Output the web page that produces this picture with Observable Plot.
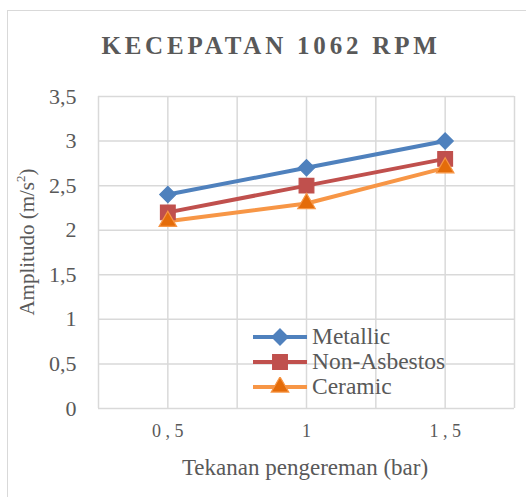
<!DOCTYPE html>
<html>
<head>
<meta charset="utf-8">
<script src="https://cdn.jsdelivr.net/npm/d3@7"></script>
<script src="https://cdn.jsdelivr.net/npm/@observablehq/plot@0.6"></script>
<style>
  html, body { margin: 0; padding: 0; background: #fff; }
  #wrap { position: relative; width: 526px; height: 497px; overflow: hidden; color: #595959; }
  #border { position: absolute; left: 7px; top: 10px; width: 530px; height: 500px; border: 1.5px solid #d9d9d9; box-sizing: border-box; }
  #chart { position: absolute; left: 0; top: 0; }
  .abs { position: absolute; white-space: nowrap; }
  #title { left: 0; width: 542px; top: 30px; text-align: center; font-weight: bold; font-size: 25px; letter-spacing: 3.8px; line-height: 32px; }
  #ytitle { left: 27px; top: 242px; transform: translate(-50%, -50%) rotate(-90deg); font-size: 21px; line-height: 22px; }
  #xtitle { left: 305px; top: 468px; transform: translate(-50%, -50%); font-size: 23px; line-height: 26px; }
  #legend { left: 253px; top: 324px; }
  .lrow { display: flex; align-items: center; height: 25px; font-size: 23.5px; }
  .lrow svg { margin-right: 5px; }
</style>
</head>
<body>
<div id="wrap" style="font-family:'Liberation Serif'">
  <div id="border"></div>
  <div id="chart"></div>
  <div id="title" class="abs" style="font-family:'Liberation Serif'">KECEPATAN 1062 RPM</div>
  <div id="ytitle" class="abs" style="font-family:'Liberation Serif'">Amplitudo (m/s<sup style="font-size:13px;vertical-align:9px;line-height:0">2</sup>)</div>
  <div id="xtitle" class="abs" style="font-family:'Liberation Serif'">Tekanan pengereman (bar)</div>
  <div id="legend" class="abs" style="font-family:'Liberation Serif'"></div>
</div>
<script>
// Data
const pressures = [0.5, 1, 1.5];
const pressureLabels = ["0 , 5", "1", "1 , 5"];
const seriesNames = ["Metallic", "Non-Asbestos", "Ceramic"];
const metallic = [2.4, 2.7, 3.0];
const nonAsbestos = [2.2, 2.5, 2.8];
const ceramic = [2.1, 2.3, 2.7];
const yTicks = [0, 0.5, 1, 1.5, 2, 2.5, 3, 3.5];

// Styles
const FONT = "Liberation Serif";
const lineColors = ["#4F81BD", "#C0504D", "#F79646"];
const markFill = ["#4F81BD", "#C0504D", "#E46C0A"];
const markStroke = ["#4F81BD", "#C0504D", "#F79646"];
const symbols = ["diamond2", "square", "triangle"];
const symR = [7.3, 8.3, 6.5];

const allValues = [metallic, nonAsbestos, ceramic];
const rows = [];
seriesNames.forEach((s, i) => pressures.forEach((p, j) => rows.push({series: s, x: p, y: allValues[i][j], idx: i})));

const gridX = d3.range(0.25, 1.76, 0.25);
const fmtY = d => String(d).replace(".", ",");

const marks = [
  Plot.ruleX(gridX, {stroke: "#d9d9d9", strokeWidth: 1.5}),
  Plot.ruleY(yTicks, {stroke: "#d9d9d9", strokeWidth: 1.5}),
  Plot.axisY({ticks: yTicks, tickSize: 0, tickPadding: 22, tickFormat: fmtY, fontSize: 22, fill: "#595959", label: null}),
  Plot.axisX({ticks: pressures, tickSize: 0, tickPadding: 16, tickFormat: (d, i) => pressureLabels[i], fontSize: 18, fill: "#595959", label: null}),
];
seriesNames.forEach((s, i) => {
  const d = rows.filter(r => r.series === s);
  marks.push(Plot.line(d, {x: "x", y: "y", stroke: lineColors[i], strokeWidth: 4}));
});
seriesNames.forEach((s, i) => {
  const d = rows.filter(r => r.series === s);
  marks.push(Plot.dot(d, {x: "x", y: "y", symbol: () => symbols[i], r: symR[i], fill: markFill[i], stroke: markStroke[i], strokeWidth: 1.2}));
});

const chart = Plot.plot({
  width: 526, height: 497,
  marginLeft: 98, marginRight: 12, marginTop: 96, marginBottom: 89,
  style: {fontFamily: FONT, background: "transparent", overflow: "visible"},
  x: {type: "linear", domain: [0.25, 1.75]},
  y: {domain: [0, 3.5]},
  symbol: {type: "identity"},
  marks
});
chart.querySelectorAll("text").forEach(t => t.setAttribute("font-family", FONT));
chart.style.fontFamily = FONT;
document.getElementById("chart").appendChild(chart);

// Legend
const leg = document.getElementById("legend");
seriesNames.forEach((s, i) => {
  const row = document.createElement("div");
  row.className = "lrow";
  const sym = d3.symbol().type(i === 0 ? d3.symbolDiamond2 : i === 1 ? d3.symbolSquare : d3.symbolTriangle).size(Math.PI * symR[i] * symR[i]);
  row.innerHTML = `<svg width="54" height="20"><line x1="0" x2="54" y1="10" y2="10" stroke="${lineColors[i]}" stroke-width="4"/><path transform="translate(27,10)" d="${sym()}" fill="${markFill[i]}" stroke="${markStroke[i]}" stroke-width="1.2"/></svg><span style="font-family:'Liberation Serif'">${s}</span>`;
  leg.appendChild(row);
});
</script>
</body>
</html>
